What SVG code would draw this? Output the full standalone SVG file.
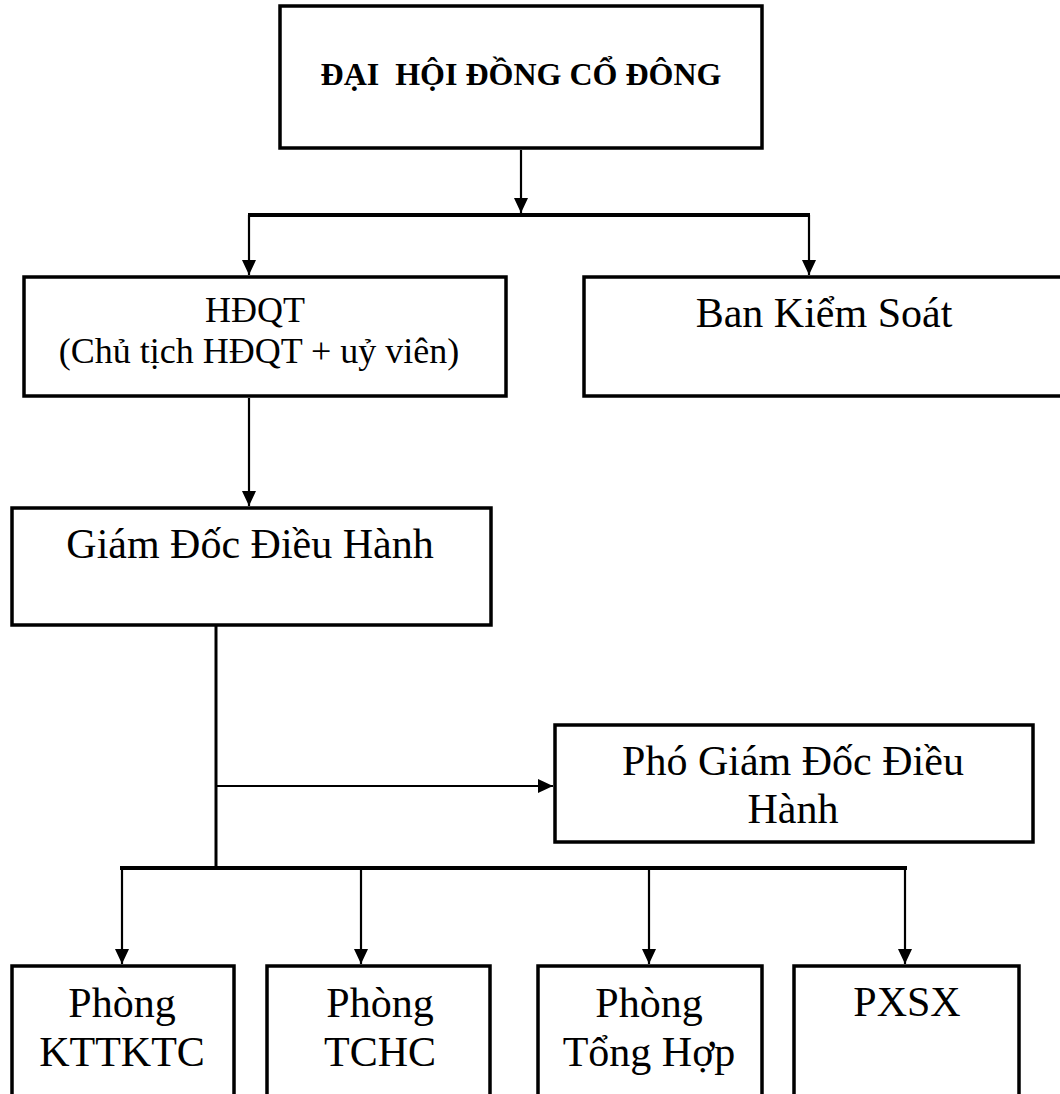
<svg xmlns="http://www.w3.org/2000/svg" width="1060" height="1094" viewBox="0 0 1060 1094">
  <style>
    .box { fill: #fff; stroke: #000; stroke-width: 3.5; }
    .lbl { font-family: "Liberation Serif", "Times New Roman", serif; font-size: 42px; fill: #000; text-anchor: middle; }
    .title { font-weight: bold; font-size: 32px; white-space: pre; }
    .mid { font-size: 36px; }
    .wire { fill: none; stroke: #000; stroke-width: 2.2; }
    .bus { fill: none; stroke: #000; stroke-width: 4; }
    .trunk { fill: none; stroke: #000; stroke-width: 3; }
  </style>
  <defs>
    <marker id="tip" viewBox="0 0 15 14" refX="15" refY="7" markerWidth="15" markerHeight="14" markerUnits="userSpaceOnUse" orient="auto">
      <path d="M0,0 L15,7 L0,14 Z" fill="#000"/>
    </marker>
  </defs>

  <rect width="1060" height="1094" fill="#fff"/>

  <!-- connectors -->
  <g id="connectors">
    <line class="wire" x1="521" y1="150" x2="521" y2="213" marker-end="url(#tip)"/>
    <line class="bus" x1="248" y1="215" x2="810" y2="215"/>
    <line class="wire" x1="249" y1="215" x2="249" y2="275" marker-end="url(#tip)"/>
    <line class="wire" x1="809" y1="215" x2="809" y2="275" marker-end="url(#tip)"/>
    <line class="wire" x1="249" y1="398" x2="249" y2="506" marker-end="url(#tip)"/>
    <line class="trunk" x1="216" y1="626" x2="216" y2="868"/>
    <line class="wire" x1="216" y1="786" x2="553" y2="786" marker-end="url(#tip)"/>
    <line class="bus" x1="120" y1="868" x2="907" y2="868"/>
    <line class="wire" x1="122" y1="868" x2="122" y2="964" marker-end="url(#tip)"/>
    <line class="wire" x1="361" y1="868" x2="361" y2="964" marker-end="url(#tip)"/>
    <line class="wire" x1="649" y1="868" x2="649" y2="964" marker-end="url(#tip)"/>
    <line class="wire" x1="905" y1="868" x2="905" y2="964" marker-end="url(#tip)"/>
  </g>

  <g id="dai-hoi-dong-co-dong">
    <rect class="box" x="280" y="6" width="482" height="142"/>
    <text class="lbl title" x="521" y="85">ĐẠI  HỘI ĐỒNG CỔ ĐÔNG</text>
  </g>

  <g id="hdqt">
    <rect class="box" x="24" y="277" width="482" height="119"/>
    <text class="lbl mid" x="255" y="322">HĐQT</text>
    <text class="lbl mid" x="259" y="363">(Chủ tịch HĐQT + uỷ viên)</text>
  </g>

  <g id="ban-kiem-soat">
    <rect class="box" x="584" y="277" width="490" height="119"/>
    <text class="lbl" x="824" y="327">Ban Kiểm Soát</text>
  </g>

  <g id="giam-doc">
    <rect class="box" x="12" y="508" width="479" height="117"/>
    <text class="lbl" x="250" y="558">Giám Đốc Điều Hành</text>
  </g>

  <g id="pho-giam-doc">
    <rect class="box" x="555" y="725" width="478" height="117"/>
    <text class="lbl" x="793" y="775">Phó Giám Đốc Điều</text>
    <text class="lbl" x="793" y="823">Hành</text>
  </g>

  <g id="phong-kttktc">
    <rect class="box" x="12" y="966" width="222" height="140"/>
    <text class="lbl" x="122" y="1017">Phòng</text>
    <text class="lbl" x="122" y="1066">KTTKTC</text>
  </g>

  <g id="phong-tchc">
    <rect class="box" x="267" y="966" width="223" height="140"/>
    <text class="lbl" x="380" y="1017">Phòng</text>
    <text class="lbl" x="380" y="1066">TCHC</text>
  </g>

  <g id="phong-tong-hop">
    <rect class="box" x="538" y="966" width="224" height="140"/>
    <text class="lbl" x="649" y="1017">Phòng</text>
    <text class="lbl" x="649" y="1066">Tổng Hợp</text>
  </g>

  <g id="pxsx">
    <rect class="box" x="794" y="966" width="225" height="140"/>
    <text class="lbl" x="907" y="1016">PXSX</text>
  </g>
</svg>
